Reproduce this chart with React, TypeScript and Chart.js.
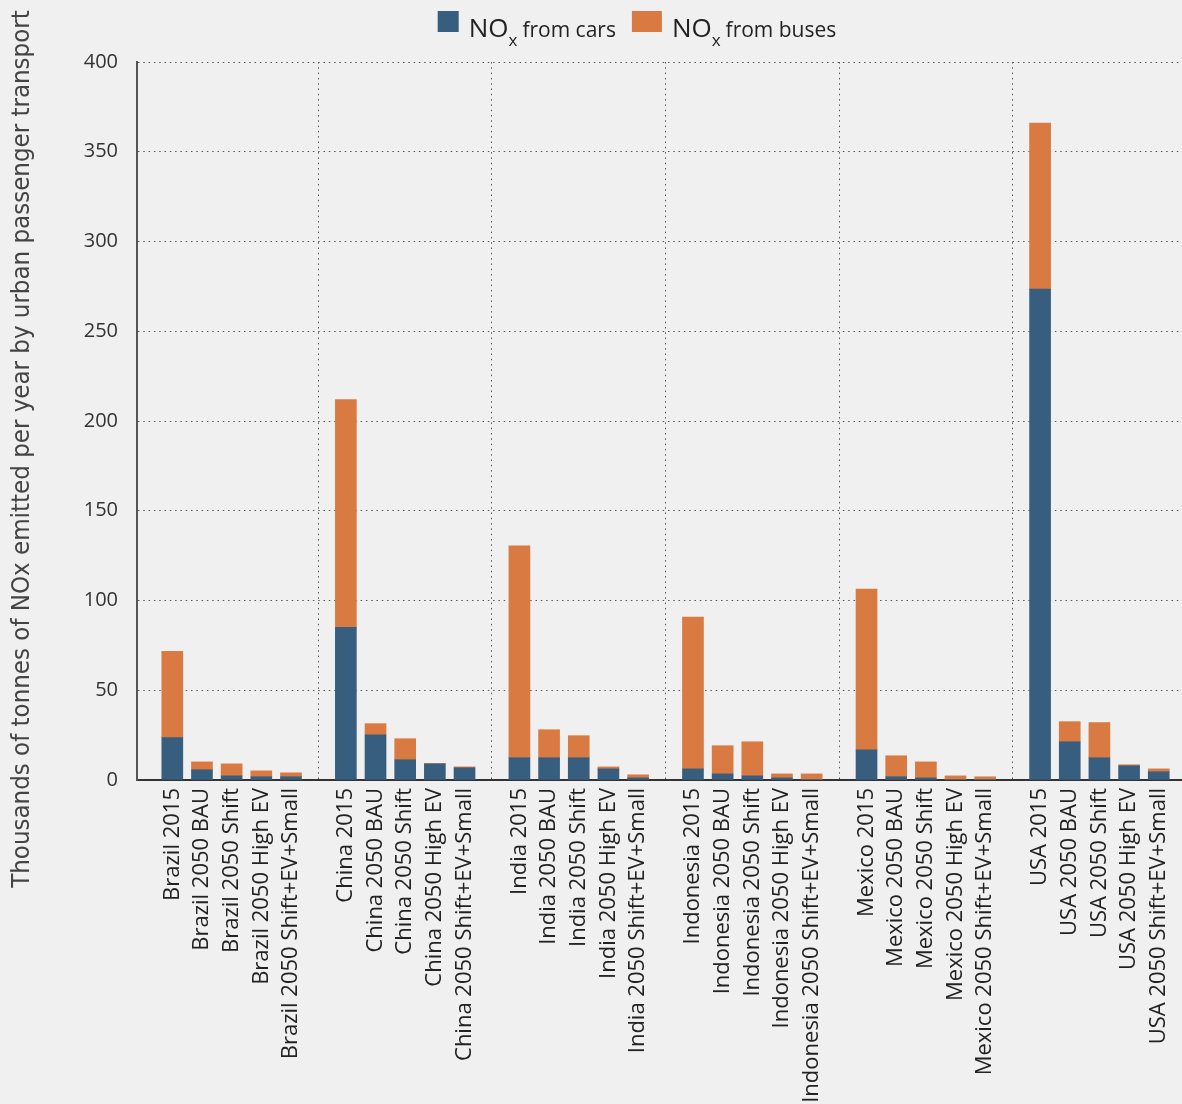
import React, { useEffect, useRef } from "react";
import { Chart, registerables } from "chart.js";

Chart.register(...registerables);

// ---------- data ----------
const countries = ["Brazil", "China", "India", "Indonesia", "Mexico", "USA"];
const scenarios = ["2015", "2050 BAU", "2050 Shift", "2050 High EV", "2050 Shift+EV+Small"];
const categories = countries.flatMap((c) => scenarios.map((s) => `${c} ${s}`));

// Thousands of tonnes of NOx per year
const carsNOx = [
  23.6, 5.7, 2.3, 1.8, 1.8,
  85.0, 25.2, 11.3, 9.0, 6.8,
  12.4, 12.4, 12.4, 6.2, 1.2,
  6.2, 3.4, 2.3, 1.2, 0.2,
  16.8, 1.8, 1.2, 0.3, 0.2,
  273.5, 21.3, 12.4, 7.9, 4.6,
];
const busesNOx = [
  48.1, 4.4, 6.7, 3.3, 2.2,
  127.0, 6.2, 11.7, 0.2, 0.5,
  118.1, 15.6, 12.3, 1.1, 1.7,
  84.6, 15.7, 19.0, 2.2, 3.2,
  89.5, 11.7, 8.9, 2.0, 1.6,
  92.5, 11.2, 19.6, 0.6, 1.6,
];
const yTicks = [0, 50, 100, 150, 200, 250, 300, 350, 400];
const seriesMain = ["NO", "NO"];
const seriesSub = ["x", "x"];
const seriesRest = ["from cars", "from buses"];
const yTitle = "Thousands of tonnes of NOx emitted per year by urban passenger transport";

// ---------- styling / layout ----------
const CAR_COLOR = "#375e7f";
const BUS_COLOR = "#d97a42";
const BG = "#f0f0f0";
const FONT = "'Open Sans', 'DejaVu Sans', sans-serif";
const GROUP_SPAN = 5.85; // width of one country group in bar steps
const X_MIN = -1.19;
const X_MAX = 34.0;

function barX(k: number) {
  const g = Math.floor(k / scenarios.length);
  const i = k % scenarios.length;
  return g * GROUP_SPAN + i;
}
const dividerX = countries
  .slice(1)
  .map((_, j) => (j + 1) * GROUP_SPAN - (GROUP_SPAN - scenarios.length + 1) / 2);

const near = (a: number, b: number) => Math.abs(a - b) < 1e-6;

const legendPlugin = {
  id: "noxLegend",
  afterDraw(chart: any) {
    const ctx = chart.ctx as CanvasRenderingContext2D;
    ctx.save();
    const bigFont = `26px ${FONT}`;
    const subFont = `17px ${FONT}`;
    const txtFont = `21px ${FONT}`;
    const boxW = [21, 30];
    const colors = [CAR_COLOR, BUS_COLOR];
    const widths = seriesRest.map((t, i) => {
      ctx.font = bigFont;
      const a = ctx.measureText(seriesMain[i]).width;
      ctx.font = subFont;
      const b = ctx.measureText(seriesSub[i]).width;
      ctx.font = txtFont;
      const c = ctx.measureText(t).width;
      return { a, b, c, total: boxW[i] + 10 + a + b + 5 + c };
    });
    const gap = 16;
    const total = widths.reduce((s, w) => s + w.total, 0) + gap;
    let x = 637 - total / 2;
    const baseline = 37;
    ctx.textBaseline = "alphabetic";
    ctx.textAlign = "left";
    seriesRest.forEach((t, i) => {
      const w = widths[i];
      ctx.fillStyle = colors[i];
      ctx.fillRect(x, 11, boxW[i], 21);
      x += boxW[i] + 10;
      ctx.fillStyle = "#222";
      ctx.font = bigFont;
      ctx.fillText(seriesMain[i], x, baseline);
      x += w.a;
      ctx.font = subFont;
      ctx.fillText(seriesSub[i], x, baseline + 9);
      x += w.b + 5;
      ctx.font = txtFont;
      ctx.fillText(t, x, baseline);
      x += w.c + gap;
    });
    ctx.restore();
  },
};

const titlePlugin = {
  id: "yTitle",
  afterDraw(chart: any) {
    const ctx = chart.ctx as CanvasRenderingContext2D;
    ctx.save();
    const base = 22;
    ctx.font = `${base}px 'Liberation Sans Narrow', 'DejaVu Sans Condensed', ${FONT}`;
    const w = ctx.measureText(yTitle).width;
    const size = (base * 878) / w;
    ctx.font = `${size}px 'Liberation Sans Narrow', 'DejaVu Sans Condensed', ${FONT}`;
    ctx.translate(22, 449);
    ctx.rotate(-Math.PI / 2);
    ctx.textAlign = "center";
    ctx.textBaseline = "middle";
    ctx.fillStyle = "#444";
    ctx.fillText(yTitle, 0, 0);
    ctx.restore();
  },
};

export default function App() {
  const ref = useRef<HTMLCanvasElement>(null);
  useEffect(() => {
    if (!ref.current) return;
    const chart = new Chart(ref.current, {
      type: "bar",
      data: {
        datasets: [
          {
            label: "NOx from cars",
            data: carsNOx.map((v, k) => ({ x: barX(k), y: v })),
            backgroundColor: CAR_COLOR,
            grouped: false,
            barThickness: 21,
            maxBarThickness: 21,
          },
          {
            label: "NOx from buses",
            data: busesNOx.map((v, k) => ({ x: barX(k), y: v })),
            backgroundColor: BUS_COLOR,
            grouped: false,
            barThickness: 21,
            maxBarThickness: 21,
          },
        ],
      } as any,
      options: {
        responsive: false,
        animation: false,
        devicePixelRatio: 1,
        layout: { padding: { top: 62, right: 1, left: 0, bottom: 0 } },
        plugins: {
          legend: { display: false },
          tooltip: { enabled: false },
        },
        scales: {
          x: {
            type: "linear",
            offset: false,
            min: X_MIN,
            max: X_MAX,
            afterBuildTicks: (scale: any) => {
              scale.ticks = [
                ...categories.map((_, k) => ({ value: barX(k) })),
                ...dividerX.map((v) => ({ value: v })),
              ].sort((a, b) => a.value - b.value);
            },
            afterFit: (scale: any) => {
              scale.height = 324;
              scale.paddingLeft = 0;
              scale.paddingRight = 0;
            },
            ticks: {
              autoSkip: false,
              minRotation: 90,
              maxRotation: 90,
              padding: 8,
              color: "#222",
              font: { family: FONT, size: 22 },
              callback: (value: any) => {
                const k = categories.findIndex((_, i) => near(barX(i), Number(value)));
                return k >= 0 ? categories[k] : "";
              },
            },
            grid: {
              offset: false,
              drawTicks: false,
              lineWidth: 1,
              color: (c: any) =>
                c.tick && dividerX.some((d) => near(d, c.tick.value)) ? "#555" : "rgba(0,0,0,0)",
            },
            border: { display: true, color: "#333", width: 2, dash: [1.5, 3.8] },
          },
          y: {
            type: "linear",
            stacked: true,
            min: 0,
            max: 400,
            afterBuildTicks: (scale: any) => {
              scale.ticks = yTicks.map((v) => ({ value: v }));
            },
            afterFit: (scale: any) => {
              scale.width = 137;
            },
            ticks: {
              padding: 19,
              color: "#333",
              font: { family: FONT, size: 20 },
            },
            grid: { drawTicks: false, color: "#555", lineWidth: 1 },
            border: { display: true, color: "#555", width: 2, dash: [1.5, 3.8] },
          },
        },
      } as any,
      plugins: [legendPlugin, titlePlugin],
    });
    return () => chart.destroy();
  }, []);
  return (
    <div
      style={{
        position: "fixed",
        left: 0,
        top: 0,
        width: 1182,
        height: 1104,
        background: BG,
      }}
    >
      <canvas ref={ref} width={1182} height={1104} style={{ display: "block" }} />
    </div>
  );
}
